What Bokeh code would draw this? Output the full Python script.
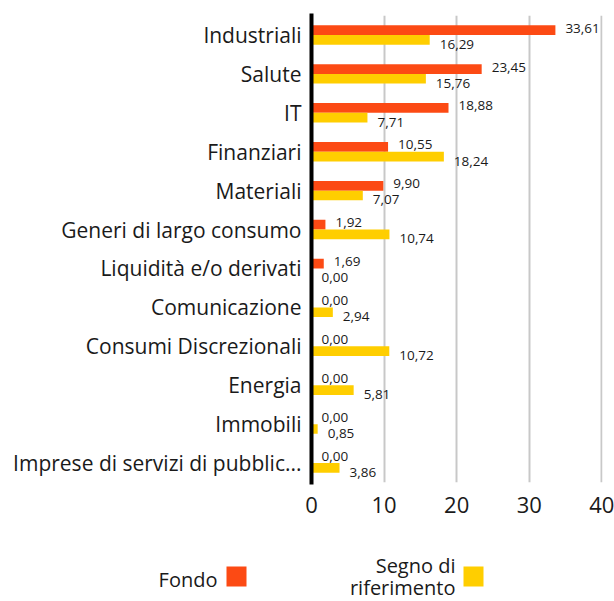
from bokeh.plotting import figure
from bokeh.models import ColumnDataSource, FactorRange, Range1d, FixedTicker
from bokeh.transform import dodge
from bokeh.layouts import column
from bokeh.core.properties import value
from bokeh.embed import file_html
from bokeh.resources import INLINE

categories = ["Industriali", "Salute", "IT", "Finanziari", "Materiali",
              "Generi di largo consumo", "Liquidità e/o derivati", "Comunicazione",
              "Consumi Discrezionali", "Energia", "Immobili",
              "Imprese di servizi di pubblic..."]
fondo = [33.61, 23.45, 18.88, 10.55, 9.90, 1.92, 1.69, 0.00, 0.00, 0.00, 0.00, 0.00]
benchmark = [16.29, 15.76, 7.71, 18.24, 7.07, 10.74, 0.00, 2.94, 10.72, 5.81, 0.85, 3.86]
x_ticks = [0, 10, 20, 30, 40]
series_names = ["Fondo", "Segno di\nriferimento"]

ORANGE = "#fc4a14"
YELLOW = "#ffce00"
FONT = "Open Sans"
TXT = "#1a1a1a"

def fmt(v):
    return f"{v:.2f}".replace(".", ",")

src = ColumnDataSource(dict(
    cat=categories,
    fondo=fondo,
    bench=benchmark,
    fondo_lbl=[fmt(v) for v in fondo],
    bench_lbl=[fmt(v) for v in benchmark],
))

p = figure(width=614, height=530, output_backend="svg", toolbar_location=None,
           y_range=FactorRange(*categories[::-1], range_padding=0),
           x_range=Range1d(0, 40.1),
           min_border_left=311, min_border_right=12, min_border_top=15, min_border_bottom=48)
p.frame_align = False
p.outline_line_color = None
p.background_fill_color = "white"
p.border_fill_color = "white"

p.hbar(y=dodge("cat", 0.125, range=p.y_range), right="fondo", height=0.25,
       fill_color=ORANGE, line_color=None, source=src)
p.hbar(y=dodge("cat", -0.125, range=p.y_range), right="bench", height=0.25,
       fill_color=YELLOW, line_color=None, source=src)

p.text(x="fondo", y=dodge("cat", 0.125, range=p.y_range), text="fondo_lbl", source=src,
       x_offset=10, y_offset=-2, text_baseline="middle", text_align="left",
       text_font=value(FONT), text_font_size="13.5px", text_color=TXT)
p.text(x="bench", y=dodge("cat", -0.125, range=p.y_range), text="bench_lbl", source=src,
       x_offset=10, y_offset=4.5, text_baseline="middle", text_align="left",
       text_font=value(FONT), text_font_size="13.5px", text_color=TXT)

p.ygrid.grid_line_color = None
p.xgrid.grid_line_color = "#c8c8c8"
p.xgrid.grid_line_width = 2
p.xaxis.ticker = FixedTicker(ticks=x_ticks)
p.xaxis.axis_line_color = None
p.xaxis.major_tick_line_color = None
p.xaxis.minor_tick_line_color = None
p.xaxis.major_label_text_font = FONT
p.xaxis.major_label_text_font_size = "22px"
p.xaxis.major_label_text_color = TXT
p.xaxis.major_label_standoff = 8

p.yaxis.axis_line_color = "black"
p.yaxis.axis_line_width = 4
p.yaxis.axis_line_cap = "square"
p.yaxis.major_tick_line_color = None
p.yaxis.minor_tick_line_color = None
p.yaxis.major_label_text_font = FONT
p.yaxis.major_label_text_font_size = "21px"
p.yaxis.major_label_text_color = TXT
p.yaxis.major_label_standoff = 4

# legend strip (its own small figure; coordinates are pixels within the strip)
LEG_W, LEG_H = 614, 71
leg = figure(width=LEG_W, height=LEG_H, output_backend="svg", toolbar_location=None,
             x_range=Range1d(0, LEG_W), y_range=Range1d(LEG_H, 0),
             x_axis_type=None, y_axis_type=None,
             min_border=0, min_border_left=0, min_border_right=0,
             min_border_top=0, min_border_bottom=0)
leg.frame_align = False
leg.outline_line_color = None
leg.background_fill_color = "white"
leg.border_fill_color = "white"
leg.xgrid.grid_line_color = None
leg.ygrid.grid_line_color = None

seg_lines = series_names[1].split("\n")
leg.text(x=[217, 455, 455], y=[49, 35, 57], text=[series_names[0]] + seg_lines,
         text_align="right", text_baseline="alphabetic", text_font=value(FONT),
         text_font_size="20px", text_color=TXT)
leg.rect(x=[236, 473], y=[46, 46], width=20, height=20,
         width_units="screen", height_units="screen",
         fill_color=[ORANGE, YELLOW], line_color=None)

layout = column(p, leg, spacing=0)
open("out.html", "w").write(file_html(layout, INLINE))
